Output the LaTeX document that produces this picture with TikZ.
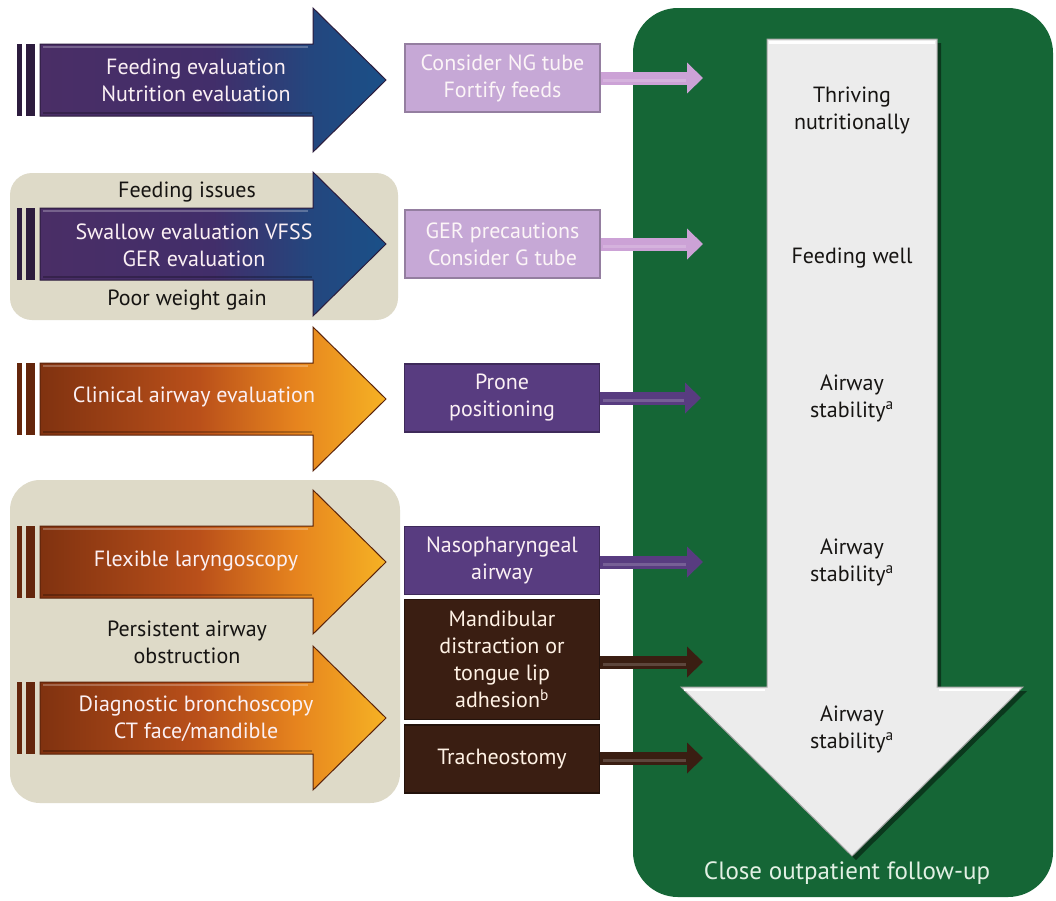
\documentclass[tikz,border=0pt]{standalone}
\usepackage{fontspec}
\setmainfont{PT Sans}
\usetikzlibrary{arrows.meta,shadows}

% palette
\definecolor{greenpanel}{RGB}{21,102,54}
\definecolor{tanbox}{RGB}{222,218,200}
\definecolor{lilac}{RGB}{198,168,214}
\definecolor{lilacarrow}{RGB}{204,162,214}
\definecolor{plum}{RGB}{88,60,128}
\definecolor{cocoa}{RGB}{58,30,18}
\definecolor{arrowgrey}{RGB}{236,236,236}
\definecolor{stripepurple}{RGB}{45,28,62}
\definecolor{striperust}{RGB}{100,38,12}
\definecolor{pa}{RGB}{74,46,102}
\definecolor{pb}{RGB}{66,46,106}
\definecolor{bb}{RGB}{36,70,126}
\definecolor{bc}{RGB}{26,80,136}
\definecolor{ra}{RGB}{128,50,16}
\definecolor{rb}{RGB}{186,80,26}
\definecolor{rc}{RGB}{230,132,30}
\definecolor{rd}{RGB}{246,178,36}
\definecolor{inktext}{RGB}{22,20,18}
\definecolor{paletext}{RGB}{226,240,228}

% left-to-right fills of the large arrows
\pgfdeclarehorizontalshading{bluefade}{100bp}{color(0bp)=(pa); color(25bp)=(pa); color(50bp)=(pb); color(64bp)=(bb); color(75bp)=(bc); color(100bp)=(bc)}
\pgfdeclarehorizontalshading{amberfade}{100bp}{color(0bp)=(ra); color(25bp)=(ra); color(48bp)=(rb); color(62bp)=(rc); color(75bp)=(rd); color(100bp)=(rd)}

% large block arrow with two stripes at its tail: #1 centre y, #2 shading, #3 stripe colour, #4 outline colour
\newcommand{\blockarrow}[4]{%
  \fill[#3] (17,#1-36) rectangle (22,#1+36);
  \fill[#3] (26,#1-36) rectangle (35,#1+36);
  \path[shading=#2, draw=#4, line width=1]
    (40,#1-36) -- (313,#1-36) -- (313,#1-72) -- (386,#1) -- (313,#1+72)
    -- (313,#1+36) -- (40,#1+36) -- cycle;
  \draw[white, opacity=.25, line width=2] (43,#1-33) -- (308,#1-33);
  \draw[black, opacity=.25, line width=2] (43,#1+33) -- (312,#1+33);
}

\tikzset{
  txt/.style={font=\fontsize{22}{27}\selectfont, align=center, inner sep=0},
  arrowtxt/.style={txt, text=white!94!purple},
  darktxt/.style={txt, text=inktext},
  midbox/.style={txt, minimum width=195, minimum height=68, line width=1.5},
  lilacbox/.style={midbox, fill=lilac, draw=lilac!75!black, text=white!96!purple},
  plumbox/.style={midbox, fill=plum, draw=plum!70!black, text=white!94!purple},
  cocoabox/.style={midbox, fill=cocoa, draw=cocoa!60!black, text=white!90!orange},
  feed/.style={line width=13, draw=#1, -{Triangle[length=16pt,width=30pt]}},
  sheen/.style={white, opacity=.18, line width=3},
}

\begin{document}
\begin{tikzpicture}[x=1pt,y=-1pt]
\useasboundingbox (0,0) rectangle (1056,900);
\fill[white] (0,0) rectangle (1056,900);

% green outcome panel and the downward white arrow
\fill[greenpanel, rounded corners=45] (633,8) rectangle (1053,897);
\path[fill=arrowgrey, draw=black!35, line width=1,
      drop shadow={shadow xshift=4pt, shadow yshift=-4pt, opacity=.45, fill=black}]
  (767,39) -- (937,39) -- (937,687) -- (1023,687) -- (852,856) -- (681,687)
  -- (767,687) -- cycle;
\draw[white, line width=3] (769,42) -- (935,42);
\draw[white, line width=2] (684,690) -- (765,690);
\draw[white, line width=2] (939,690) -- (1019,690);

% tan grouping panels
\fill[tanbox, rounded corners=22] (10,173) rectangle (398,320);
\fill[tanbox, rounded corners=30] (10,480) rectangle (400,803);

% large arrows
\blockarrow{80}{bluefade}{stripepurple}{pa!60!black}
\blockarrow{244}{bluefade}{stripepurple}{pa!60!black}
\blockarrow{399}{amberfade}{striperust}{ra!70!black}
\blockarrow{562}{amberfade}{striperust}{ra!70!black}
\blockarrow{718}{amberfade}{striperust}{ra!70!black}

\node[arrowtxt] (a1) at (196,80) {Feeding evaluation\\Nutrition evaluation};
\node[arrowtxt] (a2) at (194,245) {Swallow evaluation VFSS\\GER evaluation};
\node[arrowtxt] (a3) at (194,397) {Clinical airway evaluation};
\node[arrowtxt] (a4) at (196,561) {Flexible laryngoscopy};
\node[arrowtxt] (a5) at (196,719) {Diagnostic bronchoscopy\\CT face/mandible};

\node[darktxt] (g1) at (187,192) {Feeding issues};
\node[darktxt] (g2) at (187,300) {Poor weight gain};
\node[darktxt] (g3) at (187,642) {Persistent airway\\obstruction};

% interventions
\node[lilacbox] (b1) at (502.5,78) {Consider NG tube\\Fortify feeds};
\node[lilacbox] (b2) at (502.5,244) {GER precautions\\Consider G tube};
\node[plumbox] (b3) at (502,398) {Prone\\positioning};
\node[plumbox] (b4) at (502,560.5) {Nasopharyngeal\\airway};
\node[cocoabox, minimum height=120] (b5) at (502,659.5) {Mandibular\\distraction or\\tongue lip\\adhesion\textsuperscript{b}};
\node[cocoabox] (b6) at (502,759) {Tracheostomy};

% arrow ends on the panel
\coordinate (e1) at (703,78);
\coordinate (e2) at (703,244);
\coordinate (e3) at (701,398);
\coordinate (e4) at (703,562);
\coordinate (e5) at (703,662);
\coordinate (e6) at (703,758);

\draw[feed=lilacarrow] (b1.east |- e1) -- (e1);
\draw[feed=lilacarrow] (b2.east |- e2) -- (e2);
\draw[feed=plum] (b3.east |- e3) -- (e3);
\draw[feed=plum] (b4.east |- e4) -- (e4);
\draw[feed=cocoa] (b5.east |- e5) -- (e5);
\draw[feed=cocoa] (b6.east |- e6) -- (e6);
\foreach \e in {e1,e2,e3,e4,e5,e6}
  \draw[sheen] ([xshift=2pt,yshift=-2pt]b1.east |- \e) -- ([xshift=-17pt,yshift=-2pt]\e);

% outcomes
\node[darktxt] (o1) at (852,110) {Thriving\\nutritionally};
\node[darktxt] (o2) at (852,258) {Feeding well};
\node[darktxt] (o3) at (852,398) {Airway\\stability\textsuperscript{a}};
\node[darktxt] (o4) at (852,562) {Airway\\stability\textsuperscript{a}};
\node[darktxt] (o5) at (852,729) {Airway\\stability\textsuperscript{a}};
\node[txt, text=paletext, font=\fontsize{25}{30}\selectfont] (fu) at (847,873) {Close outpatient follow-up};
\end{tikzpicture}
\end{document}
